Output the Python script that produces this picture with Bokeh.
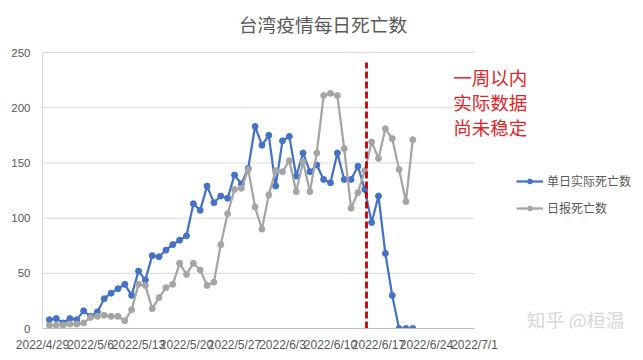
import pandas as pd
from bokeh.plotting import figure
from bokeh.models import Range1d, Legend, LegendItem, Label, FixedTicker
from bokeh.embed import file_html
from bokeh.resources import INLINE

# ---------------- data ----------------
axis_start = "2022-04-29"          # left end of the date axis
first_date = "2022-04-30"          # first data day
tick_labels = ["2022/4/29", "2022/5/6", "2022/5/13", "2022/5/20", "2022/5/27",
               "2022/6/3", "2022/6/10", "2022/6/17", "2022/6/24", "2022/7/1"]
y_ticks = [0, 50, 100, 150, 200, 250]
actual_deaths = [8, 9, 5, 9, 8, 16, 11, 15, 27, 32,
                 36, 40, 30, 52, 44, 66, 65, 71, 76, 80,
                 84, 113, 107, 129, 114, 120, 118, 139, 131, 145,
                 183, 166, 175, 129, 170, 174, 138, 159, 142, 148,
                 135, 132, 159, 135, 135, 147, 126, 96, 120, 68,
                 30, 0, 0, 0]
reported_deaths = [3, 3, 3, 4, 4, 5, 10, 11, 12, 11,
                   11, 7, 17, 40, 39, 18, 28, 37, 40, 59,
                   49, 59, 53, 39, 42, 76, 104, 126, 127, 144,
                   110, 90, 121, 143, 142, 152, 124, 151, 124, 159,
                   211, 213, 211, 163, 109, 123, 143, 169, 154, 181,
                   172, 144, 115, 171]
series_names = ["单日实际死亡数", "日报死亡数"]
title_text = "台湾疫情每日死亡数"
note_lines = ["一周以内", "实际数据", "尚未稳定"]
unstable_marker = "2022-06-15 06:00"
marker_top = 241
watermark = "知乎 @桓温"

# ---------------- derived x positions ----------------
t0 = pd.Timestamp(axis_start)
days = pd.date_range(first_date, periods=len(actual_deaths), freq="D")
x = [(d - t0).days for d in days]
tick_pos = [(pd.to_datetime(s, format="%Y/%m/%d") - t0).days for s in tick_labels]
marker_x = (pd.Timestamp(unstable_marker) - t0) / pd.Timedelta(days=1)

BLUE = "#4472C4"
GRAY = "#A5A5A5"
TXT = "#595959"
CJK = "Noto Sans CJK SC"

# frame: left 42 px, right edge of canvas, top of canvas, bottom 328 px
px_per_day = 432 / (tick_pos[-1] - tick_pos[0])
px_per_unit = 276 / y_ticks[-1]
x_end = tick_pos[0] + 601 / px_per_day
y_end = 328 / px_per_unit

p = figure(width=643, height=360, output_backend="svg", toolbar_location=None,
           x_range=Range1d(tick_pos[0], x_end), y_range=Range1d(0, y_end),
           min_border_left=42, min_border_right=0, min_border_top=0,
           min_border_bottom=32)
p.outline_line_color = None
p.background_fill_color = "white"
p.border_fill_color = "white"
p.styles = {"outline": "1px solid #d9d9d9", "outline-offset": "-3px"}

# axes
p.xaxis.ticker = FixedTicker(ticks=tick_pos)
p.xaxis.major_label_overrides = {t: s for t, s in zip(tick_pos, tick_labels)}
p.xaxis.bounds = (tick_pos[0], tick_pos[-1])
p.yaxis.ticker = FixedTicker(ticks=y_ticks)
p.yaxis.bounds = (y_ticks[0], y_ticks[-1])
for ax in (p.xaxis[0], p.yaxis[0]):
    ax.major_tick_out = 0
    ax.major_tick_in = 0
    ax.minor_tick_out = 0
    ax.minor_tick_in = 0
    ax.major_label_text_color = TXT
    ax.major_label_text_font = "Liberation Sans"
p.xaxis.major_label_text_font_size = "12px"
p.yaxis.major_label_text_font_size = "11.5px"
p.xaxis.axis_line_color = "#BFBFBF"
p.yaxis.axis_line_color = "#D9D9D9"
p.xaxis.major_label_standoff = 9
p.yaxis.major_label_standoff = 12
p.xgrid.grid_line_color = None
p.ygrid.grid_line_color = None

# horizontal gridlines limited to the date axis span
gy = y_ticks[1:]
p.segment(x0=[tick_pos[0]] * len(gy), x1=[tick_pos[-1]] * len(gy), y0=gy, y1=gy,
          line_color="#D9D9D9", line_width=1)

# series
bl = p.line(x, actual_deaths, line_color=BLUE, line_width=2.25)
bs = p.scatter(x, actual_deaths, size=6, fill_color=BLUE, line_color=BLUE)
gl = p.line(x, reported_deaths, line_color=GRAY, line_width=2.25)
gs = p.scatter(x, reported_deaths, size=6, fill_color=GRAY, line_color=GRAY)

# dashed marker
p.line([marker_x, marker_x], [0, marker_top], line_color="#C00000",
       line_width=2.75, line_dash="7 3")

# legend
legend = Legend(items=[LegendItem(label=series_names[0], renderers=[bl, bs]),
                       LegendItem(label=series_names[1], renderers=[gl, gs])],
                location=(474, 112), padding=0, margin=0, spacing=10,
                glyph_width=27, glyph_height=12, label_height=12,
                label_standoff=4, border_line_color=None,
                background_fill_alpha=0,
                label_text_font=CJK, label_text_font_size="12px",
                label_text_color=TXT)
p.add_layout(legend)

# title
p.add_layout(Label(x=280.5, y=304.7, x_units="screen", y_units="screen",
                   text=title_text, text_font=CJK, text_font_size="18.7px",
                   text_color=TXT, text_align="center", text_baseline="middle"))

# note
for k, line in enumerate(note_lines):
    p.add_layout(Label(x=410.7, y=251.3 - 25 * k, x_units="screen", y_units="screen",
                       text=line, text_font=CJK, text_font_size="18.5px",
                       text_color="#E0262B", text_align="left", text_baseline="middle"))

# watermark (kept just inside the plotting frame)
p.add_layout(Label(x=533, y=9, x_units="screen", y_units="screen",
                   text=watermark, text_font=CJK, text_font_size="19px",
                   text_color="#D2D2D2", text_alpha=0.9,
                   text_align="center", text_baseline="middle"))

open("out.html", "w").write(file_html(p, INLINE))
